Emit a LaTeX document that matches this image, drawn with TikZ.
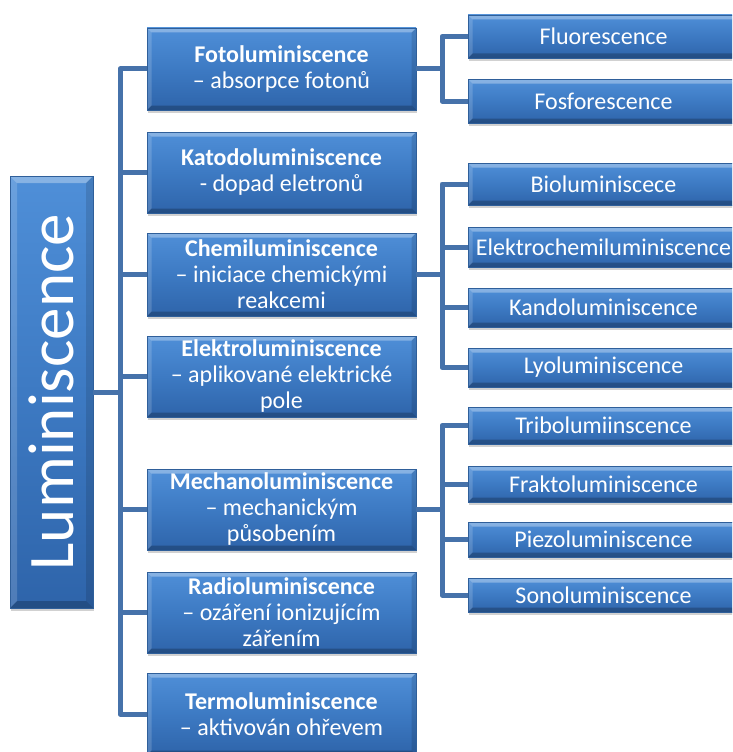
\documentclass[tikz,border=0pt]{standalone}
\usepackage{fontspec}
\setmainfont{Carlito}
\usetikzlibrary{shadows}
\definecolor{boxtop}{HTML}{4F8FD8}
\definecolor{boxmid}{HTML}{3D7AC3}
\definecolor{boxbot}{HTML}{2E64AA}
\definecolor{boxedge}{HTML}{2F5F9A}
\definecolor{conncol}{HTML}{4672AA}
\newcommand\bevelpaint[1]{%
  \fill[white,opacity=.32] (path picture bounding box.north west) -- (path picture bounding box.north east)
     -- ([xshift=-#1,yshift=-#1]path picture bounding box.north east) -- ([xshift=#1,yshift=-#1]path picture bounding box.north west) -- cycle;
  \fill[white,opacity=.16] (path picture bounding box.north west) -- ([xshift=#1,yshift=-#1]path picture bounding box.north west)
     -- ([xshift=#1,yshift=#1]path picture bounding box.south west) -- (path picture bounding box.south west) -- cycle;
  \fill[black,opacity=.22] (path picture bounding box.south west) -- (path picture bounding box.south east)
     -- ([xshift=-#1,yshift=#1]path picture bounding box.south east) -- ([xshift=#1,yshift=#1]path picture bounding box.south west) -- cycle;
  \fill[black,opacity=.12] (path picture bounding box.north east) -- (path picture bounding box.south east)
     -- ([xshift=-#1,yshift=#1]path picture bounding box.south east) -- ([xshift=-#1,yshift=-#1]path picture bounding box.north east) -- cycle;
}
\tikzset{
  bevelbox/.style={draw=boxedge, line width=0.5pt, top color=boxtop, bottom color=boxbot, middle color=boxmid,
    text=white, inner sep=0pt, align=center,
    drop shadow={shadow xshift=1pt, shadow yshift=-3pt, opacity=0.18, fill=black},
    path picture={\bevelpaint{4.5pt}}},
  midbox/.style={bevelbox, minimum width=269pt, minimum height=#1, font=\fontsize{24}{26}\selectfont},
  leafbox/.style={bevelbox, minimum width=271pt, minimum height=#1, font=\fontsize{24}{26}\selectfont},
  conn/.style={draw=conncol, line width=5pt, line join=round},
}
\begin{document}
\begin{tikzpicture}[x=1pt,y=-1pt]
\useasboundingbox (0,0) rectangle (732,752);
\clip (0,0) rectangle (732,752);
\fill[white] (0,0) rectangle (732,752);
\coordinate (tr) at (120,0);
\coordinate (bus) at (442,0);
% root
\node[bevelbox, minimum width=83pt, minimum height=432pt, path picture={\bevelpaint{7pt}}] (root) at (51.5,392) {};
\node[rotate=90, text=white, font=\fontsize{65}{70}\selectfont, inner sep=0pt] (rootlbl) at (root.center) {Luminiscence};
% middle column
\node[midbox=82pt] (foto) at (281.5,69) {\textbf{Fotoluminiscence}\\– absorpce fotonů};
\node[midbox=81pt] (kato) at (281.5,172.5) {\textbf{Katodoluminiscence}\\- dopad eletronů};
\node[midbox=83pt] (chemi) at (281.5,274.5) {\textbf{Chemiluminiscence}\\– iniciace chemickými\\reakcemi};
\node[midbox=81pt] (elektro) at (281.5,376.5) {\textbf{Elektroluminiscence}\\– aplikované elektrické\\pole};
\node[midbox=81pt] (mech) at (281.5,509.5) {\textbf{Mechanoluminiscence}\\– mechanickým\\působením};
\node[midbox=81pt] (radio) at (281.5,612.5) {\textbf{Radioluminiscence}\\– ozáření ionizujícím\\zářením};
\node[midbox=82pt] (termo) at (281.5,714) {\textbf{Termoluminiscence}\\– aktivován ohřevem};
% right column
\node[leafbox=43pt] (fluor) at (603.5,36.5) {Fluorescence};
\node[leafbox=44pt] (fosf) at (603.5,101) {Fosforescence};
\node[leafbox=42pt] (bio) at (603.5,184) {Bioluminiscece};
\node[leafbox=40pt] (echem) at (603.5,247) {Elektrochemiluminiscence};
\node[leafbox=39pt] (kando) at (603.5,307.5) {Kandoluminiscence};
\node[leafbox=39pt] (lyo) at (603.5,367.5) {Lyoluminiscence};
\node[leafbox=37pt] (tribo) at (603.5,425.5) {Tribolumiinscence};
\node[leafbox=36pt] (frakto) at (603.5,484) {Fraktoluminiscence};
\node[leafbox=35pt] (piezo) at (603.5,539.5) {Piezoluminiscence};
\node[leafbox=34pt] (sono) at (603.5,595) {Sonoluminiscence};
% connectors
\foreach \m in {foto,kato,chemi,elektro,mech,radio,termo}
  \draw[conn] (root.east) -- (root.east -| tr) |- (\m.west);
\foreach \c in {fluor,fosf}
  \draw[conn] (foto.east) -- (foto.east -| bus) |- (\c.west);
\foreach \c in {bio,echem,kando,lyo}
  \draw[conn] (chemi.east) -- (chemi.east -| bus) |- (\c.west);
\foreach \c in {tribo,frakto,piezo,sono}
  \draw[conn] (mech.east) -- (mech.east -| bus) |- (\c.west);
\end{tikzpicture}
\end{document}
